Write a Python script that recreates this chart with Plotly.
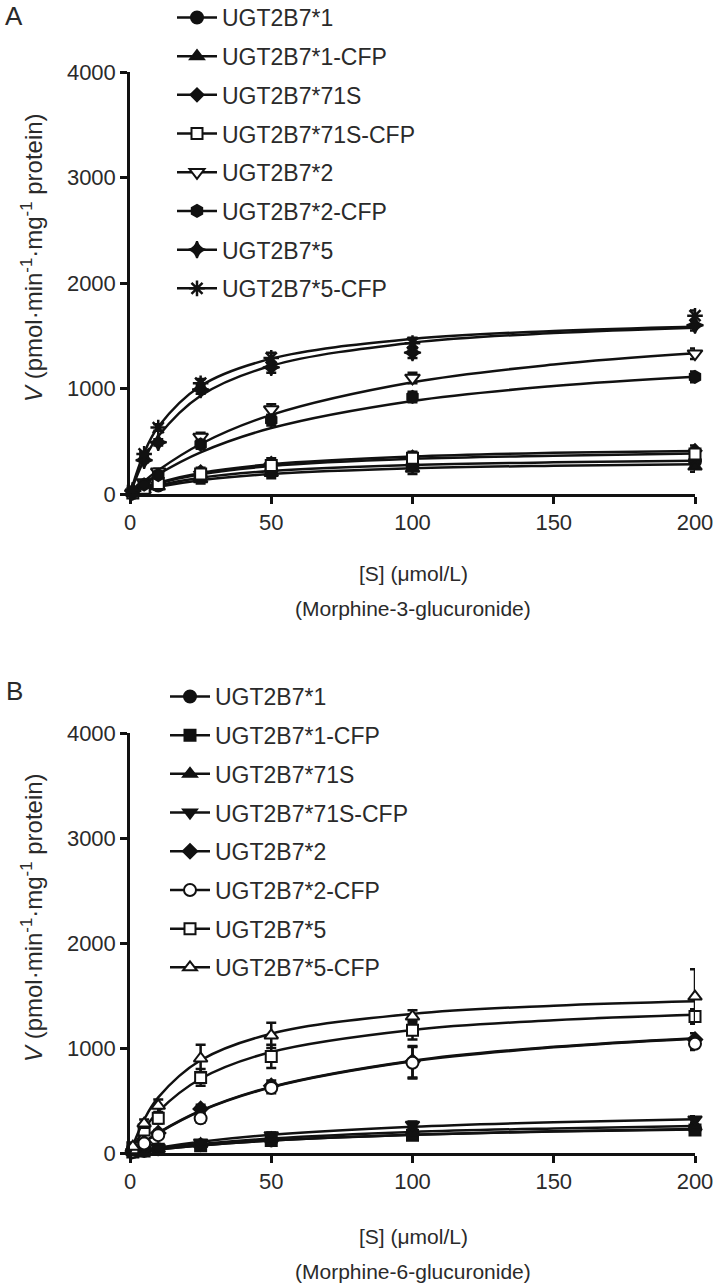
import plotly.graph_objects as go

# substrate concentrations (umol/L)
s_points = [1, 5, 10, 25, 50, 100, 200]
s_fit = [0, 5, 10, 25, 50, 100, 150, 200]

names = ["UGT2B7*1", "UGT2B7*1-CFP", "UGT2B7*71S", "UGT2B7*71S-CFP",
         "UGT2B7*2", "UGT2B7*2-CFP", "UGT2B7*5", "UGT2B7*5-CFP"]

# Panel A - morphine-3-glucuronide, measured points
a_1 = [10, 45, 80, 160, 220, 270, 310]
a_1cfp = [10, 40, 70, 140, 200, 240, 260]
a_71s = [10, 60, 110, 210, 290, 350, 410]
a_71scfp = [10, 55, 100, 190, 270, 340, 380]
a_2 = [10, 110, 210, 540, 800, 1100, 1330]
a_2cfp = [10, 90, 180, 470, 700, 920, 1110]
a_5 = [30, 320, 490, 990, 1200, 1340, 1600]
a_5cfp = [40, 380, 630, 1050, 1290, 1430, 1690]
a_err = [10, 20, 30, 40, 50, 50, 50]

# Panel A fitted curves
a_1_fit = [0, 45, 82, 154, 218, 274, 300, 315]
a_1cfp_fit = [0, 38, 68, 131, 189, 243, 268, 283]
a_71s_fit = [0, 60, 107, 200, 282, 355, 390, 408]
a_71scfp_fit = [0, 56, 100, 187, 265, 333, 363, 383]
a_2_fit = [0, 120, 225, 474, 750, 1059, 1227, 1333]
a_2cfp_fit = [0, 100, 187, 395, 625, 882, 1023, 1111]
a_5_fit = [0, 325, 547, 931, 1215, 1434, 1525, 1577]
a_5cfp_fit = [0, 390, 637, 1024, 1283, 1470, 1545, 1585]

# Panel B - morphine-6-glucuronide, measured points
b_1 = [10, 20, 35, 75, 120, 180, 230]
b_1cfp = [10, 20, 35, 70, 120, 170, 220]
b_71s = [10, 25, 40, 85, 140, 200, 250]
b_71scfp = [10, 30, 50, 100, 170, 270, 320]
b_2 = [20, 100, 190, 420, 640, 870, 1080]
b_2cfp = [15, 90, 170, 330, 620, 860, 1040]
b_5 = [50, 220, 330, 720, 920, 1170, 1300]
b_5cfp = [60, 280, 450, 900, 1120, 1300, 1490]
b_err_low = [5, 10, 15, 20, 25, 30, 30]
b_err_2 = [10, 20, 30, 40, 50, 150, 60]
b_err_5 = [20, 30, 50, 80, 110, 90, 70]
b_err_5cfp = [20, 40, 60, 130, 120, 60, 260]

# Panel B fitted curves
b_1_fit = [0, 18, 34, 72, 118, 173, 205, 225]
b_1cfp_fit = [0, 17, 33, 72, 118, 174, 206, 228]
b_71s_fit = [0, 21, 40, 86, 138, 200, 234, 257]
b_71scfp_fit = [0, 26, 50, 107, 173, 250, 293, 321]
b_2_fit = [0, 104, 193, 403, 630, 879, 1012, 1094]
b_2cfp_fit = [0, 102, 190, 399, 625, 873, 1006, 1088]
b_5_fit = [0, 227, 395, 707, 962, 1172, 1264, 1316]
b_5cfp_fit = [0, 318, 530, 883, 1136, 1325, 1403, 1445]

BLACK = "#111111"
TXT = "#2a2a2a"
FONT = "Arial, Liberation Sans, sans-serif"

# marker styles: (symbol, filled, size)
a_markers = [("circle", True, 12), ("triangle-up", True, 12), ("diamond", True, 10),
             ("square", False, 11), ("triangle-down", False, 13), ("hexagon", True, 12),
             ("star-diamond", True, 12), ("asterisk-open", True, 13)]
b_markers = [("circle", True, 12), ("square", True, 11), ("triangle-up", True, 12),
             ("triangle-down", True, 12), ("diamond", True, 11), ("circle", False, 12),
             ("square", False, 11), ("triangle-up", False, 12)]

a_pts = [a_1, a_1cfp, a_71s, a_71scfp, a_2, a_2cfp, a_5, a_5cfp]
a_fits = [a_1_fit, a_1cfp_fit, a_71s_fit, a_71scfp_fit, a_2_fit, a_2cfp_fit, a_5_fit, a_5cfp_fit]
a_errs = [a_err] * 8

b_pts = [b_1, b_1cfp, b_71s, b_71scfp, b_2, b_2cfp, b_5, b_5cfp]
b_fits = [b_1_fit, b_1cfp_fit, b_71s_fit, b_71scfp_fit, b_2_fit, b_2cfp_fit, b_5_fit, b_5cfp_fit]
b_errs = [b_err_low, b_err_low, b_err_low, b_err_low, b_err_2, b_err_2, b_err_5, b_err_5cfp]


def marker_dict(sym, filled, size):
    if sym.endswith("-open"):
        return dict(symbol=sym, size=size, color=BLACK, line=dict(color=BLACK, width=2.5))
    return dict(symbol=sym, size=size, color=BLACK if filled else "white",
                line=dict(color=BLACK, width=2))


fig = go.Figure()


def add_panel(pts, fits, errs, markers, xa, ya, legend):
    for i, name in enumerate(names):
        sym, filled, size = markers[i]
        fig.add_trace(go.Scatter(
            x=s_fit, y=fits[i], mode="lines", line=dict(color=BLACK, width=2.5, shape="spline"),
            xaxis=xa, yaxis=ya, showlegend=False, hoverinfo="skip"))
        fig.add_trace(go.Scatter(
            x=s_points, y=pts[i], mode="markers", marker=marker_dict(sym, filled, size),
            error_y=dict(type="data", array=errs[i], color=BLACK, thickness=2.5, width=5),
            xaxis=xa, yaxis=ya, showlegend=False, cliponaxis=False))
        # legend entry (line + marker)
        fig.add_trace(go.Scatter(
            x=[None], y=[None], mode="lines+markers", name=name,
            line=dict(color=BLACK, width=2.5), marker=marker_dict(sym, filled, size),
            xaxis=xa, yaxis=ya, legend=legend, legendgroup=legend + name))


add_panel(a_pts, a_fits, a_errs, a_markers, "x", "y", "legend")
add_panel(b_pts, b_fits, b_errs, b_markers, "x2", "y2", "legend2")

W, H = 714, 1287


def px(x):
    return x / W


def py(y):
    return 1 - y / H


axis_common = dict(showgrid=False, zeroline=False, showline=True, linecolor=BLACK, linewidth=2.5,
                   ticks="outside", ticklen=7, tickwidth=2.5, tickcolor=BLACK, automargin=False,
                   tickfont=dict(family=FONT, size=22, color=TXT))

fig.update_layout(
    width=W, height=H, margin=dict(l=0, r=0, t=0, b=0, autoexpand=False),
    paper_bgcolor="white", plot_bgcolor="white",
    font=dict(family=FONT, size=22, color=TXT),
    xaxis=dict(domain=[px(130), px(695)], range=[0, 200], tickvals=[0, 50, 100, 150, 200],
               anchor="y", **axis_common),
    yaxis=dict(domain=[py(494), py(72)], range=[0, 4000], tickvals=[0, 1000, 2000, 3000, 4000],
               anchor="x", **axis_common),
    xaxis2=dict(domain=[px(130), px(695)], range=[0, 200], tickvals=[0, 50, 100, 150, 200],
                anchor="y2", **axis_common),
    yaxis2=dict(domain=[py(1153), py(733)], range=[0, 4000], tickvals=[0, 1000, 2000, 3000, 4000],
                anchor="x2", **axis_common),
    legend=dict(x=px(172), y=1 + 4 / H, xanchor="left", yanchor="top", bgcolor="rgba(0,0,0,0)",
                font=dict(family=FONT, size=23, color=TXT), tracegroupgap=5.8, itemwidth=40),
    legend2=dict(x=px(165), y=py(675), xanchor="left", yanchor="top", bgcolor="rgba(0,0,0,0)",
                 font=dict(family=FONT, size=23, color=TXT), tracegroupgap=5.8, itemwidth=40),
)

ytitle = "<i>V</i> (pmol·min<sup>-1</sup>·mg<sup>-1</sup> protein)"
annos = [
    dict(text="A", x=px(14), y=py(16), xanchor="center", yanchor="middle", font=dict(size=26)),
    dict(text="B", x=px(14), y=py(691), xanchor="center", yanchor="middle", font=dict(size=26)),
    dict(text=ytitle, x=px(32), y=py(258), textangle=-90, xanchor="center", yanchor="middle",
         font=dict(size=24)),
    dict(text=ytitle, x=px(32), y=py(918), textangle=-90, xanchor="center", yanchor="middle",
         font=dict(size=24)),
    dict(text="[S] (μmol/L)", x=px(413), y=py(573), xanchor="center", yanchor="middle"),
    dict(text="(Morphine-3-glucuronide)", x=px(413), y=py(608), xanchor="center", yanchor="middle"),
    dict(text="[S] (μmol/L)", x=px(413), y=py(1236), xanchor="center", yanchor="middle"),
    dict(text="(Morphine-6-glucuronide)", x=px(413), y=py(1271), xanchor="center", yanchor="middle"),
]
for a in annos:
    a.update(xref="paper", yref="paper", showarrow=False)
    a.setdefault("font", dict(size=21))
    a["font"].update(family=FONT, color=TXT)
fig.update_layout(annotations=annos)

fig.write_html("out.html", config={"displayModeBar": False},
               post_script="document.body.style.margin='0px';")
